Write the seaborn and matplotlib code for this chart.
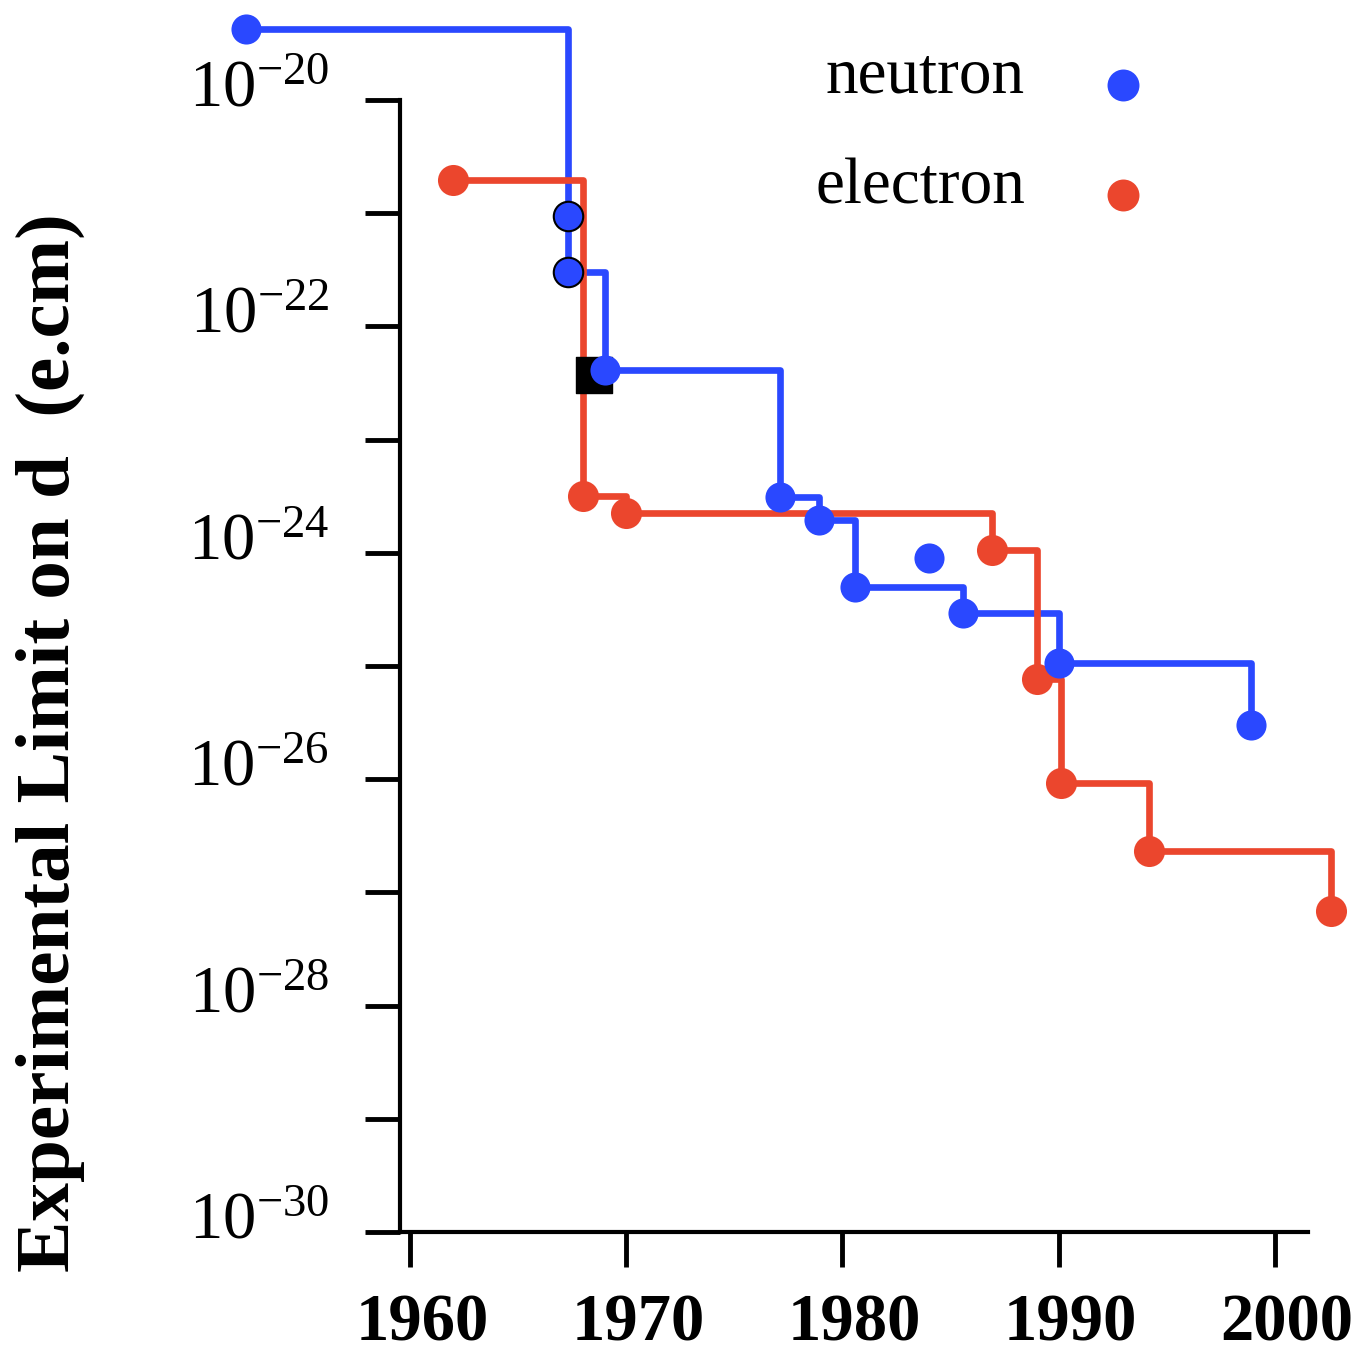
import numpy as np
import pandas as pd
import seaborn as sns
import matplotlib.pyplot as plt
import matplotlib.transforms as mtransforms
from matplotlib.lines import Line2D
from matplotlib.legend_handler import HandlerLine2D
from matplotlib.ticker import FuncFormatter

# --- data ---
neutron_year = [1952.4, 1967.3, 1967.3, 1969.0, 1977.1, 1978.9, 1980.6, 1985.6, 1990.0, 1998.9]
neutron_limit = [4.2e-20, 9.5e-22, 3.0e-22, 4.1e-23, 3.1e-24, 1.95e-24, 5.0e-25, 2.95e-25, 1.07e-25, 3.0e-26]
neutron_edged = [False, True, True, False, False, False, False, False, False, False]

electron_year = [1962.0, 1968.0, 1970.0, 1986.9, 1989.0, 1990.1, 1994.2, 2002.6]
electron_limit = [1.96e-21, 3.2e-24, 2.25e-24, 1.05e-24, 7.6e-26, 9.3e-27, 2.3e-27, 6.9e-28]

extra_neutron_year = [1984.0]
extra_neutron_limit = [9.0e-25]

square_year = [1968.5]
square_limit = [3.7e-23]

year_ticks = [1960, 1970, 1980, 1990, 2000]
decades = list(range(20, 31))

BLUE = '#2A48FF'
RED = '#EB462D'


class LowDotHandler(HandlerLine2D):
    """legend dot sits a bit lower, near the text's x-height"""
    def create_artists(self, legend, orig_handle, xdescent, ydescent, width, height, fontsize, trans):
        return super().create_artists(legend, orig_handle, xdescent, ydescent + 0.46 * fontsize,
                                      width, height, fontsize, trans)


sns.set_style('ticks')
plt.rcParams['font.family'] = ['Liberation Serif', 'DejaVu Serif']
plt.rcParams['mathtext.fontset'] = 'custom'
plt.rcParams['mathtext.rm'] = 'Liberation Serif'
for key in ['text.color', 'axes.labelcolor', 'xtick.color', 'ytick.color', 'axes.edgecolor']:
    plt.rcParams[key] = 'black'

df_n = pd.DataFrame({'year': neutron_year, 'limit': neutron_limit, 'edged': neutron_edged})
df_e = pd.DataFrame({'year': electron_year, 'limit': electron_limit})

fig = plt.figure(figsize=(13.54, 13.55), dpi=100)
ax = fig.add_axes([0.2954, 0.0908, 0.6706, 0.8354])
ax.set_yscale('log')

# step lines
for d, col in [(df_n, BLUE), (df_e, RED)]:
    sns.lineplot(data=d, x='year', y='limit', ax=ax, color=col, lw=4.8,
                 drawstyle='steps-post', estimator=None, sort=False, clip_on=False, zorder=3)

# markers
ax.scatter(square_year, square_limit, marker='s', s=650, color='black', clip_on=False, zorder=4)
sns.scatterplot(data=df_n[~df_n['edged']], x='year', y='limit', ax=ax, color=BLUE, s=470,
                linewidth=0, clip_on=False, zorder=5)
sns.scatterplot(data=df_n[df_n['edged']], x='year', y='limit', ax=ax, color=BLUE, s=450,
                edgecolor='black', linewidth=1.5, clip_on=False, zorder=5)
sns.scatterplot(x=extra_neutron_year, y=extra_neutron_limit, ax=ax, color=BLUE, s=470,
                linewidth=0, clip_on=False, zorder=5)
sns.scatterplot(data=df_e, x='year', y='limit', ax=ax, color=RED, s=500,
                linewidth=0, clip_on=False, zorder=4)

ax.set_xlim(1959.54, 2001.53)
ax.set_ylim(1e-30, 1e-20)
ax.set_xticks(year_ticks)
ax.set_xticklabels([str(y) for y in year_ticks], fontsize=48, fontweight='bold')
ax.set_yticks([10.0 ** -k for k in decades])
ax.yaxis.set_minor_locator(plt.NullLocator())
ax.yaxis.set_major_formatter(FuncFormatter(
    lambda v, pos: (r'$\mathregular{10^{-%d}}$' % round(-np.log10(v))) if round(-np.log10(v)) % 2 == 0 else ''))
ax.tick_params(axis='y', labelsize=48, length=25, width=3.5, pad=26, direction='out', color='black')
ax.tick_params(axis='x', length=25, width=3.5, pad=19, direction='out', color='black')
y_off = mtransforms.ScaledTranslation(0, 17 / 100, fig.dpi_scale_trans)
for lab in ax.get_yticklabels():
    lab.set_transform(lab.get_transform() + y_off)
x_off = mtransforms.ScaledTranslation(12 / 100, 0, fig.dpi_scale_trans)
for lab in ax.get_xticklabels():
    lab.set_transform(lab.get_transform() + x_off)

for side in ['top', 'right']:
    ax.spines[side].set_visible(False)
for side in ['left', 'bottom']:
    ax.spines[side].set_linewidth(3)
    ax.spines[side].set_color('black')

ax.set_xlabel('')
ax.set_ylabel('Experimental Limit on d  (e.cm)', fontsize=55.5, fontweight='bold')
ax.yaxis.set_label_coords(-0.347, 0.432)

handles = [Line2D([], [], ls='none', marker='o', color=BLUE, markersize=23, markeredgewidth=0),
           Line2D([], [], ls='none', marker='o', color=RED, markersize=23, markeredgewidth=0)]
ax.legend(handles, ['neutron', 'electron'], loc='upper right', bbox_to_anchor=(0.861, 1.07),
          frameon=False, markerfirst=False, fontsize=47, handlelength=1.0,
          handletextpad=1.0, labelspacing=0.78, borderaxespad=0,
          handler_map={Line2D: LowDotHandler()})

fig.savefig('out.png', dpi=100)
